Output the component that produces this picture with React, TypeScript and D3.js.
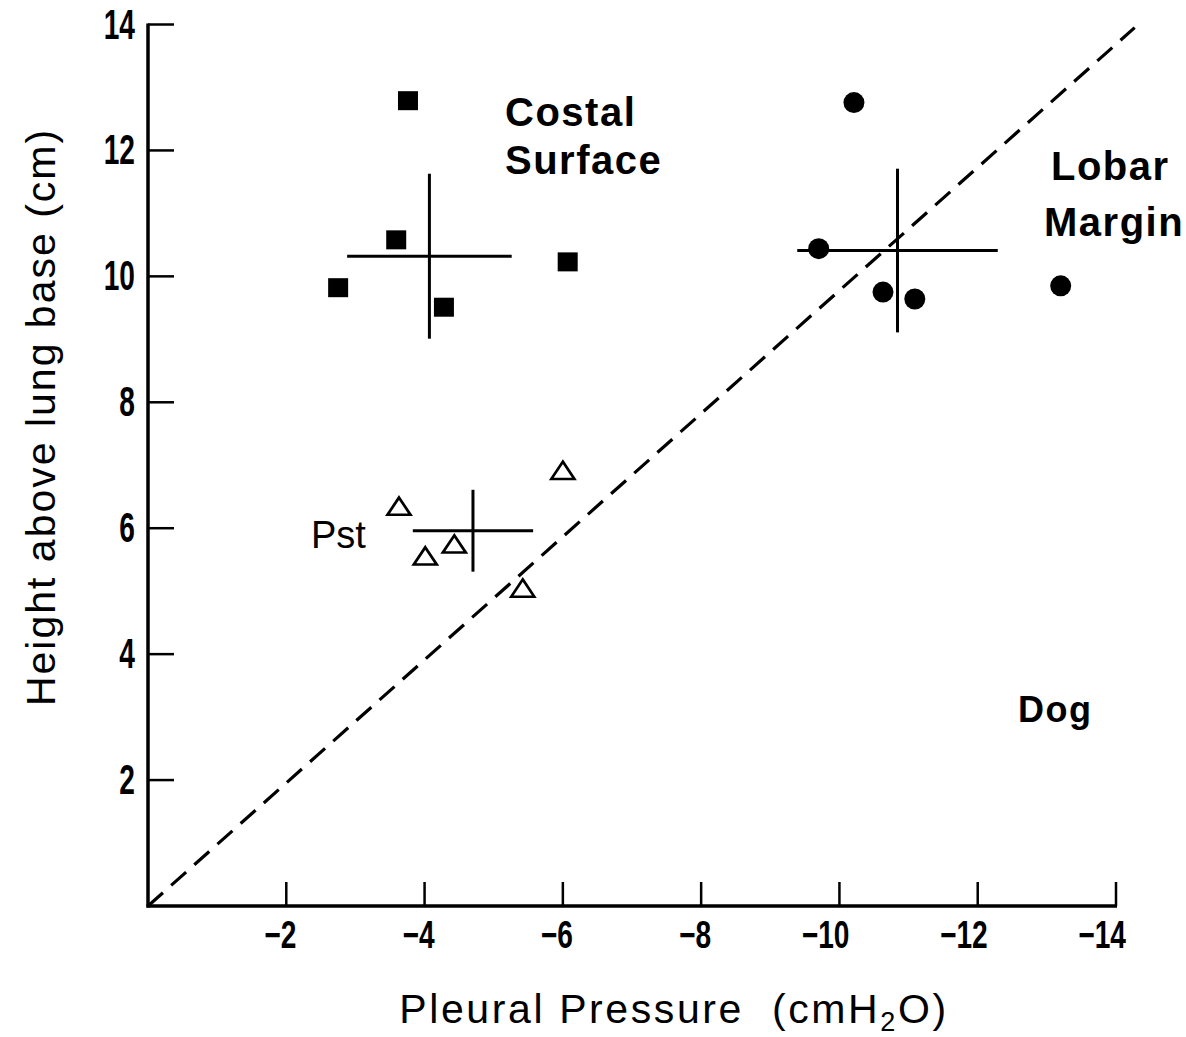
import React, { useEffect } from "react";
import * as d3 from "d3";

// ---- Data ----
const costalX = [-3.76, -3.59, -2.75, -4.28, -6.07];
const costalY = [12.79, 10.58, 9.82, 9.51, 10.23];
const lobarX = [-10.21, -9.7, -10.63, -11.09, -13.2];
const lobarY = [12.76, 10.44, 9.75, 9.64, 9.85];
const pstX = [-3.63, -4.01, -4.43, -6.0, -5.42];
const pstY = [6.32, 5.53, 5.72, 6.89, 5.02];

// group means and spreads (cross bars)
const crossNames = ["Costal", "Lobar", "Pst"];
const crossMeanX = [-4.07, -10.84, -4.7];
const crossMeanY = [10.32, 10.41, 5.96];
const crossSdX = [1.19, 1.45, 0.87];
const crossSdY = [1.31, 1.3, 0.65];

// identity (dashed) line
const refLineX = [0, -14.27];
const refLineY = [0, 13.95];

const xTicks = [-2, -4, -6, -8, -10, -12, -14];
const yTicks = [2, 4, 6, 8, 10, 12, 14];

const W = 1186;
const H = 1037;

export default function App() {
  useEffect(() => {
    document.body.style.margin = "0";
  }, []);

  const x = d3.scaleLinear().domain([0, -14]).range([148, 1116]);
  const y = d3.scaleLinear().domain([0, 14]).range([906, 24.5]);

  const tickFont = "'Liberation Sans', Arial, sans-serif";
  const textFont = "'Liberation Sans', Arial, Helvetica, sans-serif";

  const line = d3
    .line<number>()
    .x((_, i) => x(refLineX[i]))
    .y((_, i) => y(refLineY[i]));

  const tri = d3.symbol().type(d3.symbolTriangle).size(190)();

  return (
    <svg width={W} height={H} viewBox={`0 0 ${W} ${H}`} style={{ display: "block", background: "#fff" }}>
      {/* axes */}
      <line x1={x(0)} x2={x(0)} y1={y(14) - 1} y2={y(0) + 1.5} stroke="#000" strokeWidth={3.5} />
      <line x1={x(0) - 1.5} x2={x(-14) + 1} y1={y(0)} y2={y(0)} stroke="#000" strokeWidth={3.5} />
      {yTicks.map((t) => (
        <g key={"yt" + t}>
          <line x1={x(0)} x2={x(0) + 26} y1={y(t)} y2={y(t)} stroke="#000" strokeWidth={2.5} />
          <text
            transform={`translate(135,${y(t) + 14}) scale(0.74,1.1)`}
            textAnchor="end"
            fontFamily={tickFont}
            fontWeight="bold"
            fontSize={38}
          >
            {t}
          </text>
        </g>
      ))}
      {xTicks.map((t) => (
        <g key={"xt" + t}>
          <line x1={x(t)} x2={x(t)} y1={y(0)} y2={y(0) - 24} stroke="#000" strokeWidth={2.5} />
          <text
            transform={`translate(${x(t) + 10},948) scale(0.74,1.0)`}
            textAnchor="end"
            fontFamily={tickFont}
            fontWeight="bold"
            fontSize={38}
          >
            {"\u2212" + Math.abs(t)}
          </text>
        </g>
      ))}

      {/* dashed identity line */}
      <path
        d={line(refLineX) || ""}
        fill="none"
        stroke="#000"
        strokeWidth={3.2}
        strokeDasharray="20 11"
      />

      {/* cross bars */}
      {crossNames.map((n, i) => (
        <g key={"cross" + n} stroke="#000" strokeWidth={3}>
          <line
            x1={x(crossMeanX[i] + crossSdX[i])}
            x2={x(crossMeanX[i] - crossSdX[i])}
            y1={y(crossMeanY[i])}
            y2={y(crossMeanY[i])}
          />
          <line
            x1={x(crossMeanX[i])}
            x2={x(crossMeanX[i])}
            y1={y(crossMeanY[i] + crossSdY[i])}
            y2={y(crossMeanY[i] - crossSdY[i])}
          />
        </g>
      ))}

      {/* costal squares */}
      {costalX.map((v, i) => (
        <rect key={"sq" + i} x={x(v) - 10} y={y(costalY[i]) - 9.5} width={20} height={19} fill="#000" />
      ))}
      {/* lobar circles */}
      {lobarX.map((v, i) => (
        <circle key={"ci" + i} cx={x(v)} cy={y(lobarY[i])} r={10.5} fill="#000" />
      ))}
      {/* pst triangles */}
      {pstX.map((v, i) => (
        <path
          key={"tr" + i}
          d={tri || ""}
          transform={`translate(${x(v)},${y(pstY[i]) + 1}) scale(1.1,0.95)`}
          fill="#fff"
          stroke="#000"
          strokeWidth={2.6}
        />
      ))}

      {/* annotations */}
      <g fontFamily={textFont} fontWeight="bold" fontSize={40} letterSpacing={1.5}>
        <text x={505} y={126}>Costal</text>
        <text x={505} y={174}>Surface</text>
        <text x={1051} y={180}>Lobar</text>
        <text x={1044} y={236}>Margin</text>
      </g>
      <text x={1018} y={722} fontFamily={textFont} fontWeight="bold" fontSize={36} letterSpacing={1.5}>
        Dog
      </text>
      <text x={311} y={548} fontFamily={textFont} fontSize={38}>
        Pst
      </text>

      {/* axis titles */}
      <text
        x={674}
        y={1023}
        textAnchor="middle"
        fontFamily={textFont}
        fontSize={41}
        letterSpacing={2.6}
      >
        Pleural Pressure{"\u00a0\u00a0"}(cmH<tspan fontSize={27} dy={8}>2</tspan>
        <tspan dy={-8}>O)</tspan>
      </text>
      <text
        transform="translate(55,417) rotate(-90)"
        textAnchor="middle"
        fontFamily={textFont}
        fontSize={41}
        letterSpacing={2}
      >
        Height above lung base (cm)
      </text>
    </svg>
  );
}
